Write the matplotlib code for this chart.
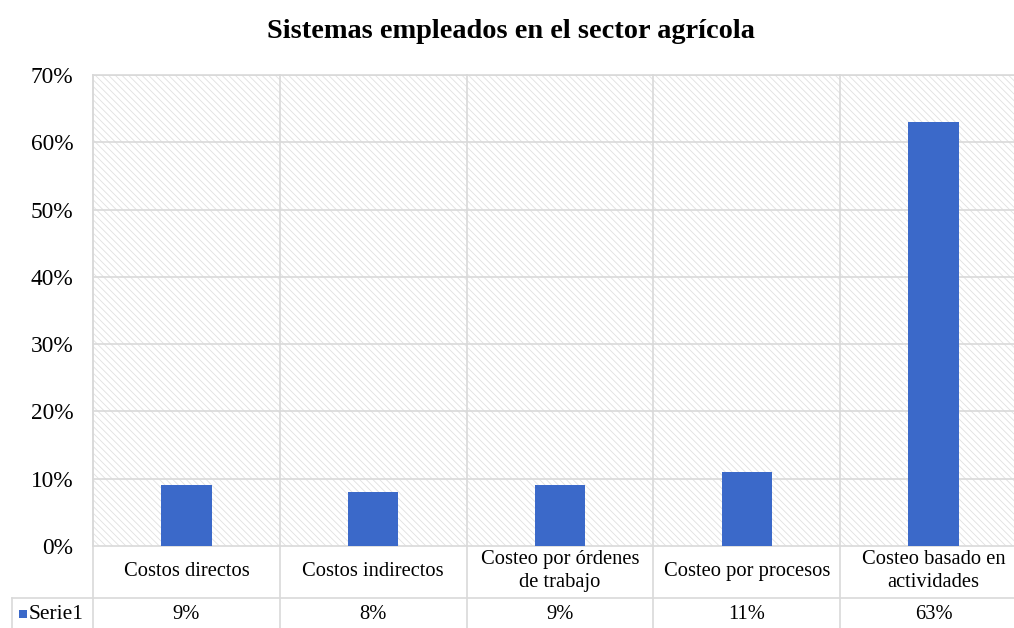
import matplotlib.pyplot as plt
from matplotlib.patches import Rectangle
import numpy as np

# data
categories = ['Costos directos', 'Costos indirectos', 'Costeo por órdenes\nde trabajo',
              'Costeo por procesos', 'Costeo basado en\nactividades']
values = [9, 8, 9, 11, 63]
value_labels = ['9%', '8%', '9%', '11%', '63%']
yticks = [0, 10, 20, 30, 40, 50, 60, 70]
series_name = 'Serie1'

bar_color = '#3B69C9'
grid_color = '#D9D9D9'

plt.rcParams['font.family'] = ['Liberation Serif', 'DejaVu Serif']
plt.rcParams['hatch.linewidth'] = 0.6
plt.rcParams['hatch.color'] = '#E0E0E0'

fig = plt.figure(figsize=(10.14, 6.28), dpi=100)
W, H = 1014, 628
left, right, top, bottom = 93, 1027, 75, 546
ax = fig.add_axes([left / W, 1 - bottom / H, (right - left) / W, (bottom - top) / H])

# hatched background
ax.add_patch(Rectangle((0, 0), 1, 1, transform=ax.transAxes, facecolor='white',
                       edgecolor='#E0E0E0', hatch='\\\\\\\\\\', linewidth=0, zorder=0))

x = np.arange(len(categories))
ax.bar(x, values, width=0.27, color=bar_color, zorder=3)

ax.set_xlim(-0.5, len(categories) - 0.5)
ax.set_ylim(0, 70)
ax.set_yticks(yticks)
ax.set_yticklabels([f'{t}%' for t in yticks], fontsize=16.8)
ax.tick_params(axis='y', length=0, pad=14)
ax.set_xticks([])
for y in yticks[1:]:
    ax.axhline(y, color=grid_color, lw=1.2, zorder=1)
for s in ax.spines.values():
    s.set_color(grid_color)
    s.set_linewidth(1.2)

# data table below the axes
tr = ax.get_xaxis_transform()
ah = bottom - top
y_row = -(598 - bottom) / ah
y_end = -(628 - bottom) / ah
y_val = (y_row + y_end) / 2 - 0.004
for b in np.arange(len(categories) + 1) - 0.5:
    ax.plot([b, b], [1, y_end], transform=tr, color=grid_color, lw=1.2,
            clip_on=False, zorder=2)
cat_w = (right - left) / len(categories)
leg_x = -0.5 - 81 / cat_w
ax.plot([leg_x, len(categories) - 0.5], [y_row, y_row], transform=tr,
        color=grid_color, lw=1.2, clip_on=False)
ax.plot([leg_x, leg_x], [y_row, y_end], transform=tr, color=grid_color, lw=1.2, clip_on=False)

for xi, cat, vl in zip(x, categories, value_labels):
    ax.text(xi, y_row / 2 + 0.002, cat, transform=tr, ha='center', va='center',
            fontsize=14.8, linespacing=1.32)
    ax.text(xi, y_val, vl, transform=tr, ha='center', va='center', fontsize=14.8)

# legend key in the table
ax.add_patch(Rectangle((leg_x + 6.5 / cat_w, y_val - 3.5 / ah), 8.5 / cat_w, 8.5 / ah,
                       transform=tr, facecolor=bar_color, edgecolor='none', clip_on=False))
ax.text(leg_x + 17 / cat_w, y_val, series_name, transform=tr,
        ha='left', va='center', fontsize=15.5)

fig.text(511 / W, 1 - 31 / H, 'Sistemas empleados en el sector agrícola', ha='center',
         va='center', fontsize=20.4, fontweight='bold')

fig.savefig('out.png', dpi=100)
